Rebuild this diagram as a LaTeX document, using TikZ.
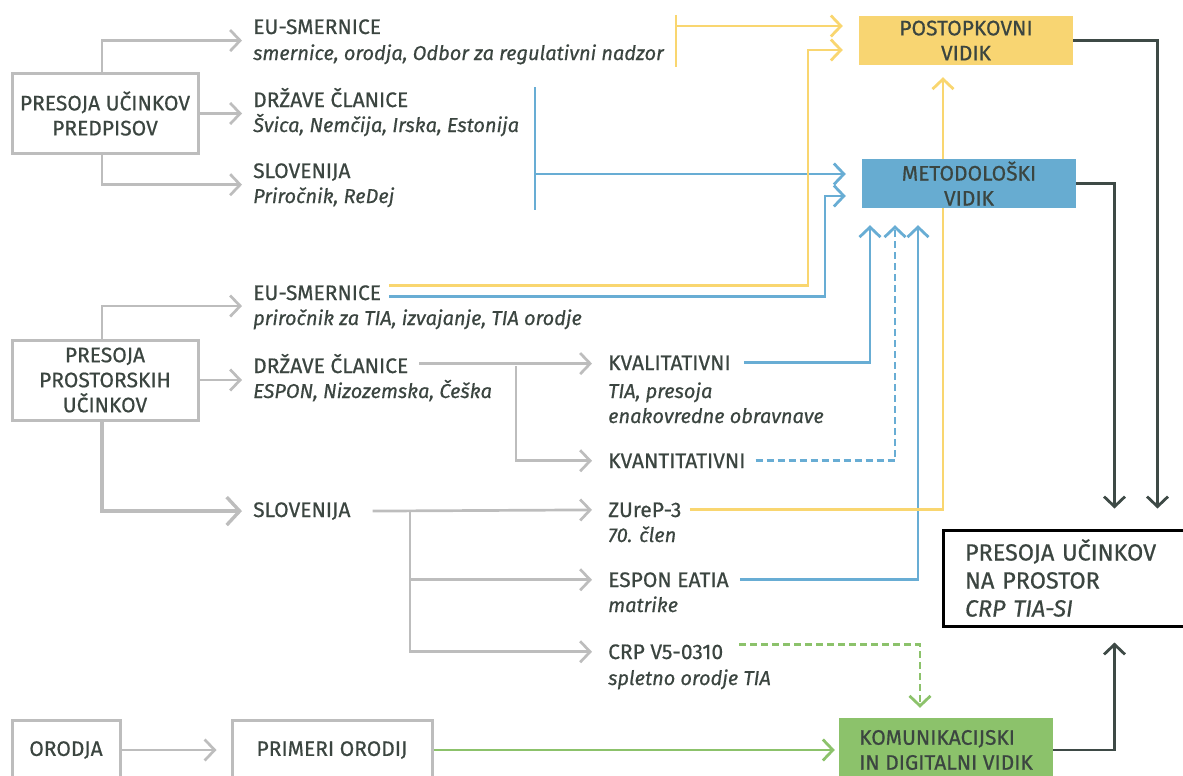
\documentclass[tikz,border=0pt]{standalone}
\usepackage{fontspec}
\setmainfont{Fira Sans}[FakeBold=0.6]
\usetikzlibrary{arrows.meta,calc}
\pgfdeclarelayer{bg}
\pgfsetlayers{bg,main}
\definecolor{tdark}{HTML}{3B4540}
\definecolor{lgray}{HTML}{BDBDBD}
\definecolor{ylw}{HTML}{F9D670}
\definecolor{ylwfill}{HTML}{F8D572}
\definecolor{blu}{HTML}{68ADD4}
\definecolor{blufill}{HTML}{67ACD1}
\definecolor{grn}{HTML}{8CC26B}
\definecolor{dgray}{HTML}{3E4A46}
\newcommand\fs{\fontsize{21}{25}\selectfont}
\newcommand\fsi{\fontsize{20}{25}\selectfont\itshape}
\newcommand\fsb{\fontsize{23.4}{28}\selectfont}
\begin{document}
\begin{tikzpicture}[x=1pt,y=-1pt,
  every node/.style={text=tdark,font=\fs},
  tt/.style={anchor=base west,inner sep=0pt},
  ti/.style={anchor=base west,inner sep=0pt,font=\fsi},
  gbox/.style={draw=lgray,line width=3pt,align=center,inner sep=0pt},
  cbox/.style={align=center,inner sep=0pt,minimum width=214pt,minimum height=49pt},
  tip/.style={-{Straight Barb[length=10pt,width=21pt]}},
  bigtip/.style={-{Straight Barb[length=13pt,width=28pt]}},
  gl/.style={draw=lgray,line width=2.7pt},
  yl/.style={draw=ylw,line width=2.8pt},
  bl/.style={draw=blu,line width=2.8pt},
  gr/.style={draw=grn,line width=2.8pt},
  dk/.style={draw=dgray,line width=2.8pt},
]
\useasboundingbox (0,0) rectangle (1183,776);
\clip (0,0) rectangle (1183,776);

% ---------- top group ----------
\node[gbox,minimum width=186pt,minimum height=79pt] (pup) at (105,113.5) {PRESOJA UČINKOV\\PREDPISOV};
\node[tt] (t1) at (253,34) {EU-SMERNICE};
\node[ti] (i1) at (253,60) {smernice, orodja, Odbor za regulativni nadzor};
\node[tt] (t2) at (253,107) {DRŽAVE ČLANICE};
\node[ti] (i2) at (253,132) {Švica, Nemčija, Irska, Estonija};
\node[tt] (t3) at (253,178) {SLOVENIJA};
\node[ti] (i3) at (253,203) {Priročnik, ReDej};

\node[cbox,fill=ylwfill] (pv) at (966,40.5) {POSTOPKOVNI\\VIDIK};
\node[cbox,fill=blufill] (mv) at (969,183.5) {METODOLOŠKI\\VIDIK};

% ---------- middle group ----------
\node[gbox,minimum width=186pt,minimum height=80pt] (pps) at (105,380) {PRESOJA\\PROSTORSKIH\\UČINKOV};
\node[tt] (m1) at (253,300) {EU-SMERNICE};
\node[ti] (m1i) at (253,325) {priročnik za TIA, izvajanje, TIA orodje};
\node[tt] (m2) at (253,373) {DRŽAVE ČLANICE};
\node[ti] (m2i) at (253,398) {ESPON, Nizozemska, Češka};
\node[tt] (m3) at (253,517) {SLOVENIJA};

\node[tt] (k1) at (608,370) {KVALITATIVNI};
\node[ti] (k1a) at (608,398) {TIA, presoja};
\node[ti] (k1b) at (608,423) {enakovredne obravnave};
\node[tt] (k2) at (608,468) {KVANTITATIVNI};

\node[tt] (s1) at (608,517) {ZUreP-3};
\node[ti] (s1i) at (608,542) {70. člen};
\node[tt] (s2) at (608,587) {ESPON EATIA};
\node[ti] (s2i) at (608,612) {matrike};
\node[tt] (s3) at (608,659) {CRP V5-0310};
\node[ti] (s3i) at (608,685) {spletno orodje TIA};

% ---------- result box ----------
\node[draw=black,line width=3pt,minimum width=257pt,minimum height=96pt,
      inner xsep=22pt,text width=213pt,align=left,font=\fsb] (fb) at (1071.5,578)
      {PRESOJA UČINKOV\\NA PROSTOR\\\textit{CRP TIA-SI}};

% ---------- bottom ----------
\node[gbox,minimum width=108pt,minimum height=60pt] (oro) at (66,750) {ORODJA};
\node[gbox,minimum width=200pt,minimum height=60pt] (pri) at (332,750) {PRIMERI ORODIJ};
\node[cbox,fill=grn,minimum height=64pt,align=left] (kv) at (946,750) {KOMUNIKACIJSKI\\IN DIGITALNI VIDIK};

\begin{pgfonlayer}{bg}
% top gray
\draw[gl,tip] ([xshift=-3pt]pup.north) |- ($(t1.west)!.5!(i1.west)+(-11,0)$);
\draw[gl,tip] (pup.east) -- ($(pup.east -| t2.west)+(-11,0)$);
\draw[gl,tip] ([xshift=-3pt]pup.south) |- ($(t3.west)!.5!(i3.west)+(-11,0)$);
% yellow top bracket
\draw[yl] (676,15) -- (676,67);
\draw[yl,tip] (676,26) -- ($(pv.west |- 0,26)+(-16,0)$);
% blue top bracket
\draw[bl] (535,87) -- (535,210);
\draw[bl,tip] (535,174) -- ($(mv.west |- 0,174)+(-16,0)$);

% middle gray
\draw[gl,tip] ([xshift=-3pt]pps.north) |- ($(m1.west)!.5!(m1i.west)+(-11,0)$);
\draw[gl,tip] (pps.east) -- ($(pps.east -| m2.west)+(-11,0)$);
\draw[lgray,line width=3.4pt,bigtip] ([xshift=-3pt]pps.south) |- ($(m3.west)+(-11,0)$);
\draw[gl,tip] ($(m2.east)+(11,0)$) -- ($(m2.east -| k1.west)+(-16,0)$);
\coordinate (br1) at (516,366);
\draw[gl,tip] (br1) |- ($(k2.west)+(-16,0)$);
\draw[gl,tip] ($(m3.east)+(22,0)$) -- ($(s1.west)+(-16,0)$);
\coordinate (br2) at (410,510);
\draw[gl,tip] (br2) |- ($(s2.west)+(-16,0)$);
\draw[gl,tip] (br2) |- ($(s3.west)+(-16,0)$);

% coloured from middle EU-SMERNICE
\draw[yl,tip] ($(m1.east)+(8,-7)$) -| (808,50) -- ($(pv.west |- 0,50)+(-16,0)$);
\draw[bl,tip] ($(m1.east)+(8,4)$) -| (825,196) -- ($(mv.west |- 0,196)+(-16,0)$);

% into METODOLOSKI bottom
\draw[bl,tip] ($(k1.east)+(13,0)$) -| ($(mv.south)+(-99,17)$);
\draw[bl,dashed,dash pattern=on 7pt off 4pt,tip] ($(k2.east)+(10,0)$) -| ($(mv.south)+(-74,17)$);
\draw[bl,tip] ($(s2.east)+(11,0)$) -| ($(mv.south)+(-51,17)$);
% ZUreP-3 to POSTOPKOVNI
\draw[yl,tip] ($(s1.east)+(8,0)$) -| ($(pv.south)+(-23,12)$);

% dark to result
\draw[dk,tip] (pv.east) -| ($(fb.north west)+(216,-20)$);
\draw[dk,tip] (mv.east) -| ($(fb.north west)+(173,-20)$);
\draw[dk,tip] (kv.east) -| ($(fb.south west)+(173,15)$);

% bottom
\draw[gl,tip] (oro.east) -- ($(pri.west)+(-14,0)$);
\draw[gr,tip] (pri.east) -- ($(kv.west)+(-4,0)$);
\draw[gr,dashed,dash pattern=on 7pt off 4pt,tip] ($(s3.east)+(16,-7)$) -| ($(kv.north)+(-26,-10)$);
\end{pgfonlayer}
\end{tikzpicture}
\end{document}
